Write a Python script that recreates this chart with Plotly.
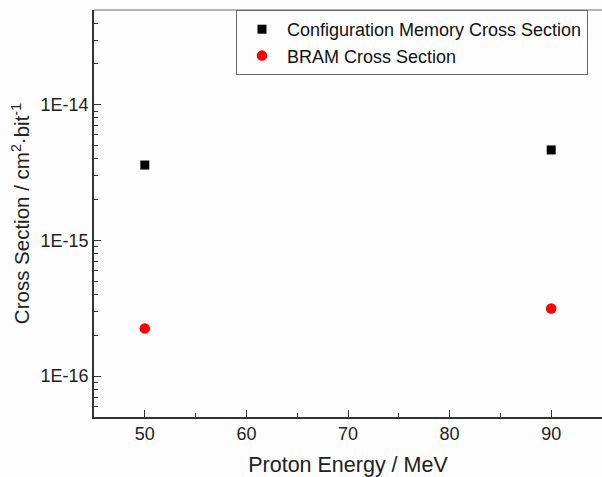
import plotly.graph_objects as go

energy = [50, 90]
config_cs = [3.6e-15, 4.65e-15]
bram_cs = [2.25e-16, 3.15e-16]
y_tickvals = [1e-16, 1e-15, 1e-14]
y_ticktext = ["1E-16", "1E-15", "1E-14"]
y_minor = [m * 10.0 ** e for e in (-17, -16, -15, -14) for m in range(2, 10)]

fig = go.Figure()
fig.add_trace(go.Scatter(x=energy, y=config_cs, mode="markers",
                         name="Configuration Memory Cross Section",
                         marker=dict(symbol="square", size=9, color="black")))
fig.add_trace(go.Scatter(x=energy, y=bram_cs, mode="markers",
                         name="BRAM Cross Section",
                         marker=dict(symbol="circle", size=10.5, color="#ff0000")))

font_family = "Liberation Sans, Arial, sans-serif"
fig.update_layout(
    width=602, height=477,
    margin=dict(l=94, r=0, t=10, b=60, autoexpand=False),
    paper_bgcolor="#fdfdfd", plot_bgcolor="#fdfdfd",
    font=dict(family=font_family, color="#222"),
    showlegend=True,
    legend=dict(x=0.2795, y=1, xanchor="left", yanchor="top",
                bordercolor="#666", borderwidth=1, bgcolor="#fdfdfd",
                itemwidth=40, entrywidth=340, entrywidthmode="pixels",
                font=dict(size=18, color="#111"), tracegroupgap=0),
    xaxis=dict(range=[45, 95], dtick=10, tick0=50, ticks="inside", ticklen=7,
               tickwidth=1.2, tickcolor="#333",
               showline=True, linecolor="#333", linewidth=1.5, showgrid=False,
               zeroline=False, tickfont=dict(size=18, color="#222"),
               minor=dict(ticks="inside", ticklen=4, dtick=5, tick0=45, tickcolor="#333"),
               title=dict(text="Proton Energy / MeV", font=dict(size=21.5, color="#222"), standoff=14)),
    yaxis=dict(type="log", range=[-16.301, -13.301], tickmode="array",
               tickvals=y_tickvals, ticktext=y_ticktext, ticks="inside", ticklen=7,
               tickwidth=1.2, tickcolor="#333",
               showline=True, linecolor="#333", linewidth=1.5, showgrid=False,
               zeroline=False, tickfont=dict(size=18, color="#222"),
               minor=dict(ticks="inside", ticklen=4, tickmode="array", tickvals=y_minor, tickcolor="#333"),
               title=dict(text="Cross Section / cm<sup>2</sup>·bit<sup>-1</sup>",
                          font=dict(size=20.5, color="#222"), standoff=5)),
)
fig.add_shape(type="line", xref="paper", yref="paper", x0=0, x1=1, y0=1, y1=1,
              line=dict(color="#999", width=1.5))
fig.write_html("out.html")
